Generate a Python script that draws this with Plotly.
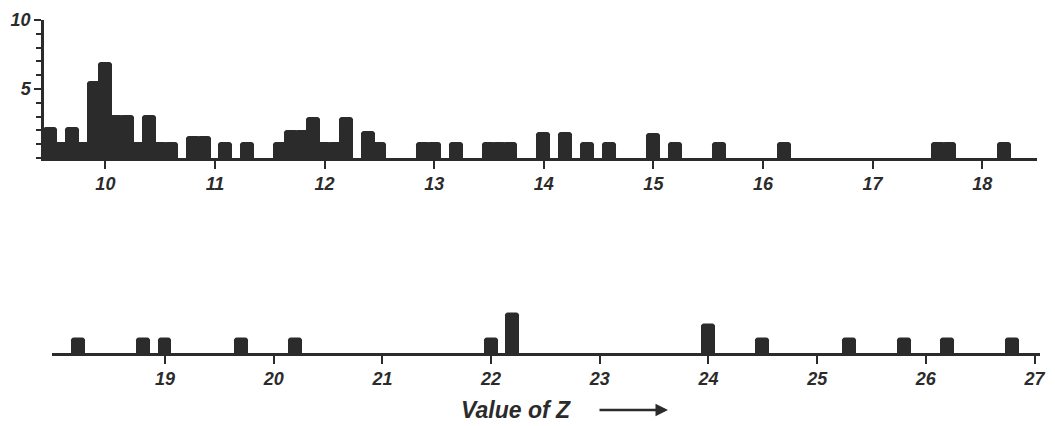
import plotly.graph_objects as go

# Upper row: Z values (bin centres, width 0.1) and frequencies
top_z = [9.5, 9.6, 9.7, 9.8, 9.9, 10.0, 10.1, 10.2, 10.3, 10.4, 10.5, 10.6,
         10.8, 10.9, 11.1, 11.3, 11.6, 11.7, 11.8, 11.9, 12.0, 12.1, 12.2,
         12.4, 12.5, 12.9, 13.0, 13.2, 13.5, 13.6, 13.7, 14.0, 14.2, 14.4,
         14.6, 15.0, 15.2, 15.6, 16.2, 17.6, 17.7, 18.2]
top_n = [2.1, 1, 2.1, 1, 5.4, 6.8, 3, 3, 1, 3, 1, 1,
         1.45, 1.45, 1, 1, 1, 1.85, 1.85, 2.85, 1, 1, 2.8,
         1.8, 1, 1, 1, 1, 1, 1, 1, 1.75, 1.75, 1,
         1, 1.7, 1, 1, 1, 1, 1, 1]

# Lower row
bot_z = [18.2, 18.8, 19.0, 19.7, 20.2, 22.0, 22.2, 24.0, 24.5, 25.3, 25.8, 26.2, 26.8]
bot_n = [1, 1, 1, 1, 1, 1, 2.8, 2, 1, 1, 1, 1, 1]

top_ticks = list(range(10, 19))
bot_ticks = list(range(19, 28))
y_ticks = [5, 10]

W, H = 1055, 426
OFF = 8  # page body margin
INK = "#2b2b2b"
FONT = dict(family="Liberation Sans", size=18, color=INK, style="italic", weight="bold")


def fx(p):
    return (p - OFF) / W


def fy(p):
    return 1 - (p - OFF) / H


fig = go.Figure()
fig.add_trace(go.Bar(x=top_z, y=top_n, width=0.1, xaxis="x", yaxis="y",
                     marker=dict(color=INK, cornerradius=2,
                                 line=dict(color=INK, width=3))))
fig.add_trace(go.Bar(x=bot_z, y=bot_n, width=0.1, xaxis="x2", yaxis="y2",
                     marker=dict(color=INK, cornerradius=2,
                                 line=dict(color=INK, width=3))))

common_x = dict(showgrid=False, zeroline=False, showline=True, linecolor=INK,
                linewidth=2.5, ticks="outside", ticklen=8, tickwidth=2,
                tickcolor=INK, tickfont=FONT, fixedrange=True, automargin=False)

fig.update_layout(
    width=W, height=H,
    margin=dict(l=0, r=0, t=0, b=0, autoexpand=False),
    paper_bgcolor="white", plot_bgcolor="white",
    showlegend=False, bargap=0,
    font=FONT,
    xaxis=dict(domain=[fx(44), fx(1037)], range=[9.44, 18.5],
               tickvals=top_ticks, ticktext=[str(t) for t in top_ticks],
               anchor="y", **common_x),
    yaxis=dict(domain=[fy(158), fy(20)], range=[0, 10],
               tickvals=y_ticks, ticktext=[str(t) for t in y_ticks],
               showgrid=False, zeroline=False, showline=True, linecolor=INK,
               linewidth=2.5, ticks="outside", ticklen=7, tickwidth=2,
               tickcolor=INK, tickfont=FONT, anchor="x", automargin=False,
               minor=dict(dtick=1, ticks="outside", ticklen=5, tickwidth=1.5,
                          tickcolor=INK, showgrid=False)),
    xaxis2=dict(domain=[fx(52), fx(1040)], range=[17.96, 27.05],
                tickvals=bot_ticks, ticktext=[str(t) for t in bot_ticks],
                anchor="y2", **common_x),
    yaxis2=dict(domain=[fy(353), fy(311.6)], range=[0, 3],
                visible=False, anchor="x2", automargin=False),
    annotations=[
        dict(text="Value of Z", xref="paper", yref="paper",
             x=fx(516), y=fy(410), xanchor="center", yanchor="middle",
             showarrow=False,
             font=dict(family="Liberation Sans", size=23, color=INK, style="italic")),
        dict(text="", xref="paper", yref="paper", x=fx(668), y=fy(410),
             ax=-70, ay=0, showarrow=True, arrowhead=2, arrowsize=1,
             arrowwidth=2.5, arrowcolor=INK),
    ],
)

fig.write_html("out.html")
